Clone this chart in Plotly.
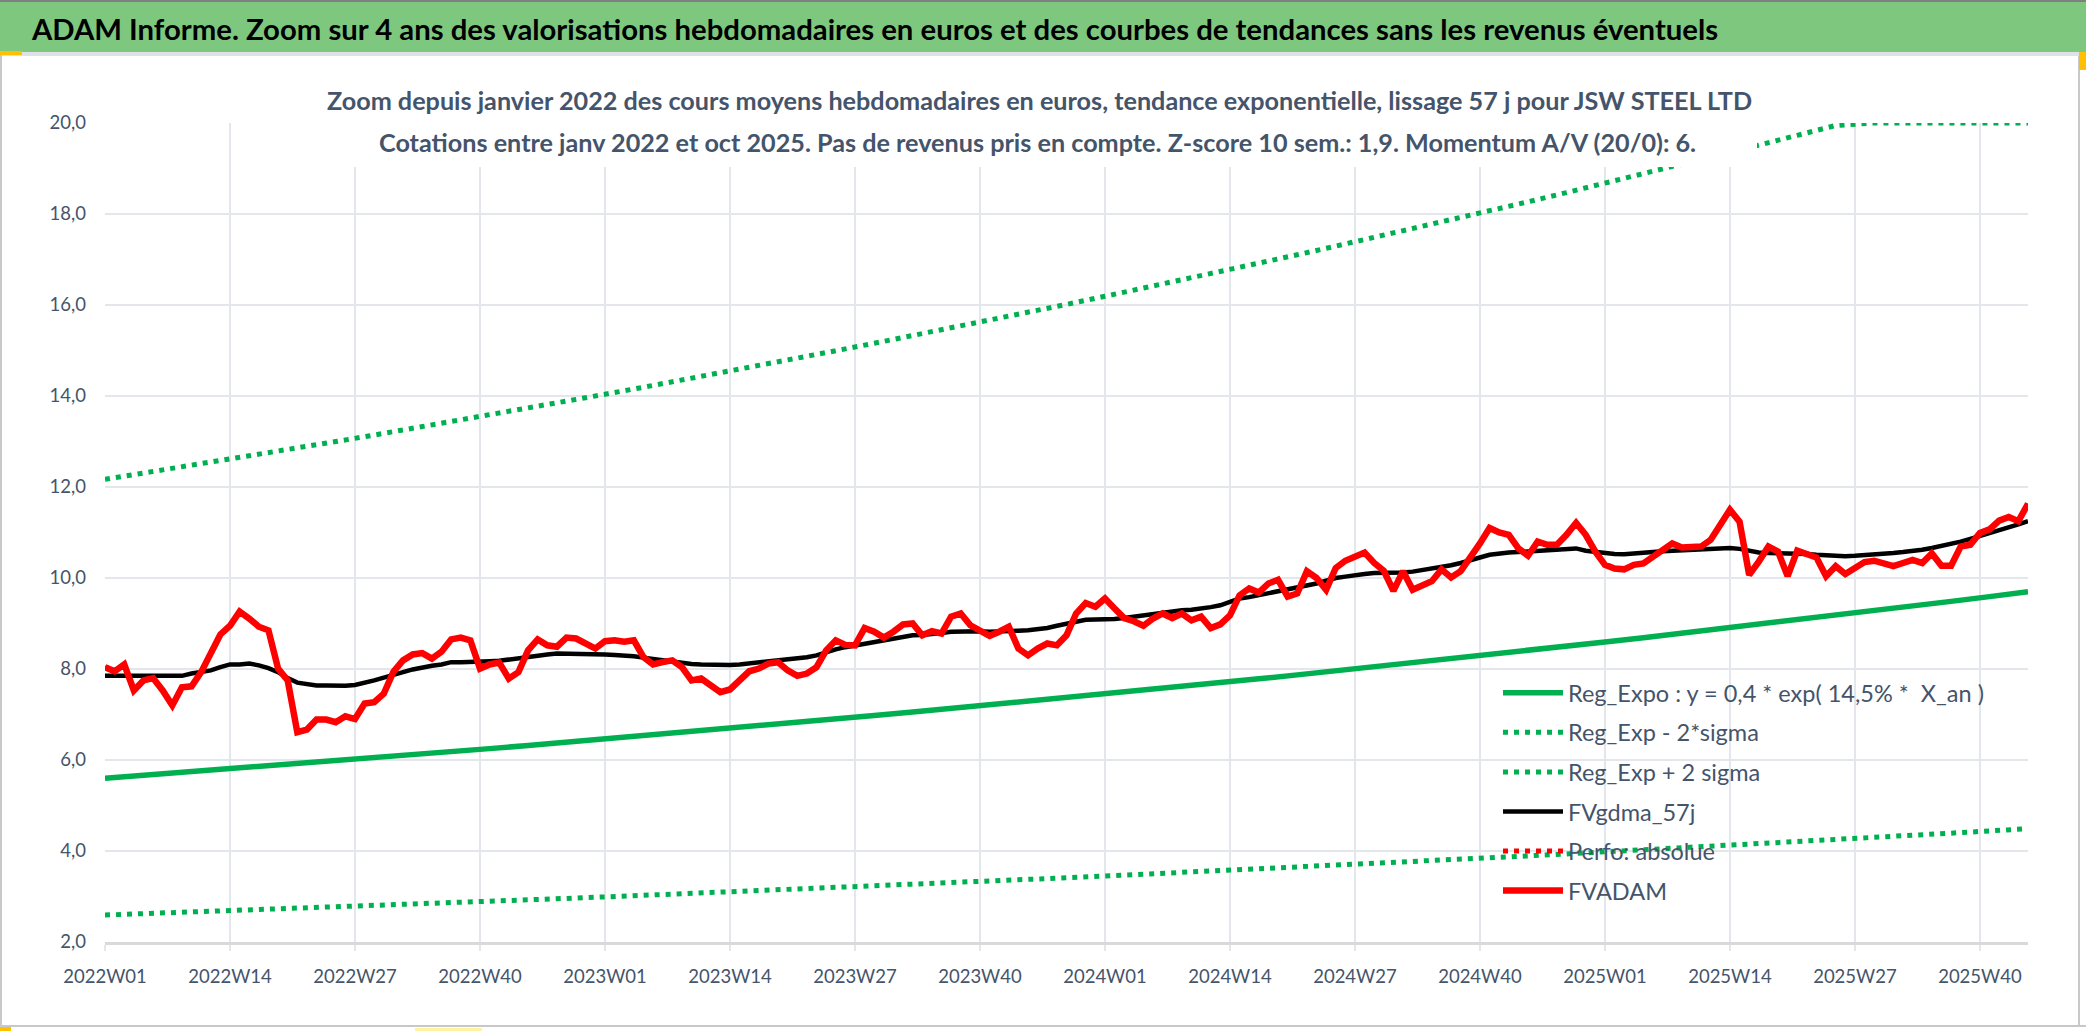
import plotly.graph_objects as go

# weekly categories 2022W01 .. 2025W45
weeks = [f"{y}W{w:02d}" for y in (2022, 2023, 2024, 2025) for w in range(1, 53)][:201]
tick_weeks = weeks[::13]
trend_weeks = weeks[::4]

# FVADAM : cours moyens hebdomadaires (EUR)
fvadam = [
    8.04, 7.95, 8.10, 7.53, 7.75, 7.80, 7.53, 7.20, 7.60, 7.62,
    7.93, 8.34, 8.76, 8.95, 9.26, 9.11, 8.93, 8.85, 8.01, 7.75,
    6.61, 6.67, 6.89, 6.89, 6.83, 6.96, 6.90, 7.24, 7.27, 7.46,
    7.94, 8.19, 8.32, 8.35, 8.23, 8.38, 8.65, 8.69, 8.63, 8.01,
    8.10, 8.14, 7.79, 7.93, 8.41, 8.65, 8.52, 8.49, 8.69, 8.67,
    8.54, 8.45, 8.61, 8.63, 8.60, 8.63, 8.26, 8.10, 8.15, 8.19,
    8.04, 7.75, 7.79, 7.64, 7.49, 7.55, 7.75, 7.95, 8.01, 8.12,
    8.15, 7.97, 7.85, 7.90, 8.04, 8.41, 8.63, 8.53, 8.52, 8.90,
    8.82, 8.69, 8.82, 8.98, 9.00, 8.74, 8.83, 8.78, 9.15, 9.22,
    8.96, 8.85, 8.73, 8.82, 8.93, 8.45, 8.30, 8.45, 8.56, 8.52,
    8.74, 9.22, 9.45, 9.37, 9.55, 9.33, 9.12, 9.05, 8.95, 9.11,
    9.22, 9.12, 9.22, 9.07, 9.15, 8.90, 8.98, 9.18, 9.62, 9.77,
    9.68, 9.88, 9.96, 9.59, 9.66, 10.15, 10.00, 9.74, 10.22, 10.38,
    10.47, 10.56, 10.33, 10.16, 9.72, 10.15, 9.74, 9.85, 9.93, 10.19,
    10.01, 10.15, 10.43, 10.76, 11.10, 11.00, 10.95, 10.65, 10.49, 10.80,
    10.73, 10.73, 10.95, 11.21, 10.95, 10.58, 10.29, 10.21, 10.19, 10.29,
    10.32, 10.47, 10.63, 10.76, 10.67, 10.67, 10.69, 10.84, 11.17, 11.50,
    11.24, 10.07, 10.36, 10.69, 10.58, 10.04, 10.60, 10.54, 10.45, 10.04,
    10.26, 10.09, 10.22, 10.35, 10.38, 10.32, 10.26, 10.33, 10.40, 10.33,
    10.54, 10.27, 10.27, 10.69, 10.73, 10.99, 11.07, 11.26, 11.34, 11.25,
    11.63,
]

# FVgdma_57j : moyenne mobile lissée
fvgdma = [
    7.85, 7.85, 7.85, 7.85, 7.84, 7.84, 7.85, 7.85, 7.85, 7.90,
    7.93, 7.97, 8.04, 8.10, 8.10, 8.12, 8.08, 8.02, 7.93, 7.80,
    7.70, 7.66, 7.64, 7.64, 7.63, 7.63, 7.65, 7.69, 7.75, 7.81,
    7.88, 7.93, 7.99, 8.04, 8.07, 8.10, 8.15, 8.15, 8.15, 8.15,
    8.17, 8.18, 8.21, 8.23, 8.28, 8.30, 8.32, 8.34, 8.34, 8.34,
    8.34, 8.33, 8.32, 8.31, 8.30, 8.28, 8.25, 8.22, 8.19, 8.16,
    8.13, 8.11, 8.10, 8.09, 8.08, 8.09, 8.10, 8.12, 8.15, 8.17,
    8.19, 8.21, 8.23, 8.26, 8.30, 8.37, 8.43, 8.48, 8.52, 8.56,
    8.60, 8.63, 8.67, 8.70, 8.74, 8.75, 8.76, 8.79, 8.82, 8.83,
    8.83, 8.83, 8.82, 8.82, 8.83, 8.84, 8.85, 8.87, 8.90, 8.95,
    9.00, 9.05, 9.08, 9.09, 9.09, 9.10, 9.12, 9.15, 9.18, 9.20,
    9.23, 9.26, 9.29, 9.30, 9.32, 9.36, 9.40, 9.47, 9.55, 9.58,
    9.62, 9.66, 9.71, 9.75, 9.79, 9.83, 9.88, 9.94, 10.00, 10.03,
    10.07, 10.09, 10.11, 10.11, 10.11, 10.12, 10.14, 10.17, 10.21, 10.25,
    10.28, 10.33, 10.38, 10.45, 10.51, 10.54, 10.56, 10.57, 10.58, 10.59,
    10.60, 10.62, 10.64, 10.65, 10.60, 10.57, 10.55, 10.53, 10.52, 10.53,
    10.55, 10.57, 10.59, 10.60, 10.60, 10.61, 10.62, 10.64, 10.66, 10.66,
    10.64, 10.60, 10.56, 10.55, 10.55, 10.55, 10.55, 10.53, 10.51, 10.50,
    10.48, 10.48, 10.49, 10.50, 10.52, 10.53, 10.55, 10.57, 10.59, 10.62,
    10.66, 10.70, 10.74, 10.80, 10.86, 10.92, 10.99, 11.05, 11.11, 11.18,
    11.25,
]

# tendances (une valeur toutes les 4 semaines)
reg_expo = [
    5.600, 5.662, 5.724, 5.788, 5.852, 5.916, 5.982, 6.048, 6.115, 6.182,
    6.250, 6.319, 6.389, 6.460, 6.531, 6.603, 6.676, 6.750, 6.824, 6.900,
    6.976, 7.053, 7.131, 7.209, 7.289, 7.369, 7.451, 7.533, 7.616, 7.700,
    7.785, 7.871, 7.958, 8.046, 8.135, 8.225, 8.316, 8.407, 8.500, 8.594,
    8.689, 8.785, 8.882, 8.980, 9.079, 9.179, 9.280, 9.383, 9.486, 9.591,
    9.697,
]
reg_low = [
    2.593, 2.621, 2.650, 2.680, 2.709, 2.739, 2.770, 2.800, 2.831, 2.862,
    2.894, 2.926, 2.958, 2.991, 3.024, 3.057, 3.091, 3.125, 3.160, 3.195,
    3.230, 3.266, 3.302, 3.338, 3.375, 3.412, 3.450, 3.488, 3.526, 3.565,
    3.604, 3.644, 3.685, 3.725, 3.767, 3.808, 3.850, 3.892, 3.936, 3.979,
    4.023, 4.067, 4.112, 4.158, 4.204, 4.250, 4.297, 4.344, 4.392, 4.441,
    4.490,
]
reg_high = [
    12.169, 12.304, 12.438, 12.577, 12.716, 12.855, 12.999, 13.142, 13.288, 13.433,
    13.581, 13.731, 13.883, 14.038, 14.192, 14.348, 14.507, 14.668, 14.829, 14.994,
    15.159, 15.326, 15.496, 15.665, 15.839, 16.013, 16.191, 16.369, 16.550, 16.732,
    16.917, 17.104, 17.293, 17.484, 17.677, 17.873, 18.071, 18.268, 18.471, 18.675,
    18.881, 19.090, 19.301, 19.514, 19.729, 19.946, 20.0, 20.0, 20.0, 20.0,
    20.0,
]

GREEN = "#00B050"
TXT = "#44546A"
FONT = "Lato, sans-serif"
DOTS = "5px,6px"

W, H = 2086, 1031
PL, PR, PT, PB = 105, 2028, 123, 942


def px_x(p):
    return (p - PL) / (PR - PL)


def px_y(p):
    return (PB - p) / (PB - PT)


def rect(x0, y0, x1, y1, color):
    return dict(type="rect", xref="paper", yref="paper", layer="above",
                x0=px_x(x0), x1=px_x(x1), y0=px_y(y1), y1=px_y(y0),
                fillcolor=color, line=dict(width=0))


fig = go.Figure()
fig.add_trace(go.Scatter(x=trend_weeks, y=reg_expo, mode="lines", legendgroup="a",
                         name="Reg_Expo : y = 0,4 * exp( 14,5% *  X_an )",
                         line=dict(color=GREEN, width=5.5)))
fig.add_trace(go.Scatter(x=trend_weeks, y=reg_low, mode="lines", legendgroup="b",
                         name="Reg_Exp - 2*sigma",
                         line=dict(color=GREEN, width=5, dash=DOTS)))
fig.add_trace(go.Scatter(x=trend_weeks, y=reg_high, mode="lines", legendgroup="c",
                         name="Reg_Exp + 2 sigma",
                         line=dict(color=GREEN, width=5, dash=DOTS)))
fig.add_trace(go.Scatter(x=weeks, y=fvgdma, mode="lines", legendgroup="d",
                         name="FVgdma_57j", line=dict(color="black", width=4.5)))
fig.add_trace(go.Scatter(x=weeks, y=fvadam, mode="lines", legendgroup="e",
                         name="Perfo: absolue",
                         line=dict(color="#FF0000", width=5, dash=DOTS)))
fig.add_trace(go.Scatter(x=weeks, y=fvadam, mode="lines", legendgroup="f",
                         name="FVADAM", line=dict(color="#FF0000", width=6.5)))

shapes = [
    rect(0, 0, W, 52, "#7DC87E"),
    rect(0, 0, W, 2, "#7F7F7F"),
    rect(0, 52, W, 56, "#DEE1E6"),
    rect(0, 52, 2, 1027, "#C8C8C8"),
    rect(2078, 56, 2080, 1027, "#C8C8C8"),
    rect(0, 1025, W, 1027, "#C8C8C8"),
    rect(0, 51, 22, 55, "#FFC000"),
    rect(2079, 52, 2086, 70, "#FFC000"),
    rect(0, 1027, 11, 1031, "#FFC000"),
    rect(415, 1028, 482, 1031, "#FFF2A0"),
    rect(322, 70, 1757, 167, "white"),
]

annotations = [
    dict(text="ADAM Informe. Zoom sur 4 ans des valorisations hebdomadaires en euros "
              "et des courbes de tendances sans les revenus éventuels",
         x=px_x(29), y=px_y(29), xanchor="left", yanchor="middle",
         font=dict(family=FONT, size=29.3, color="black", weight="bold")),
    dict(text="Zoom depuis janvier 2022 des cours moyens hebdomadaires en euros, "
              "tendance exponentielle, lissage 57 j pour JSW STEEL LTD",
         x=px_x(1039), y=px_y(100), xanchor="center", yanchor="middle",
         font=dict(family=FONT, size=25.2, color=TXT, weight="bold")),
    dict(text="Cotations entre janv 2022 et oct 2025. Pas de revenus pris en compte. "
              "Z-score 10 sem.: 1,9. Momentum A/V (20/0): 6.",
         x=px_x(1037), y=px_y(142), xanchor="center", yanchor="middle",
         font=dict(family=FONT, size=25.2, color=TXT, weight="bold")),
]
for a in annotations:
    a.update(xref="paper", yref="paper", showarrow=False)

fig.update_layout(
    width=W, height=H,
    margin=dict(l=PL, r=W - PR, t=PT, b=H - PB),
    paper_bgcolor="white", plot_bgcolor="white",
    separators=", ",
    font=dict(family=FONT, color=TXT, size=18.5),
    shapes=shapes, annotations=annotations,
    legend=dict(x=px_x(1498), y=px_y(671), xanchor="left", yanchor="top",
                bgcolor="rgba(0,0,0,0)", font=dict(size=23.5, color=TXT),
                tracegroupgap=6, traceorder="grouped", itemwidth=60),
)
fig.update_xaxes(type="category", categoryorder="array", categoryarray=weeks,
                 range=[0, 200], tickvals=tick_weeks, ticktext=tick_weeks,
                 showgrid=True, gridcolor="#E3E6EB", gridwidth=2,
                 showline=True, linecolor="#D9D9D9", linewidth=3,
                 ticks="outside", ticklen=6, tickcolor="#E3E6EB", tickwidth=2,
                 ticklabelstandoff=10, tickangle=0, zeroline=False)
fig.update_yaxes(range=[2, 20], dtick=2, tickformat=".1f",
                 showgrid=True, gridcolor="#E3E6EB", gridwidth=2,
                 showline=False, zeroline=False, ticklabelstandoff=18)

fig.write_html("out.html", config={"displayModeBar": False},
               post_script="document.body.style.margin='0';document.body.style.overflow='hidden';")
